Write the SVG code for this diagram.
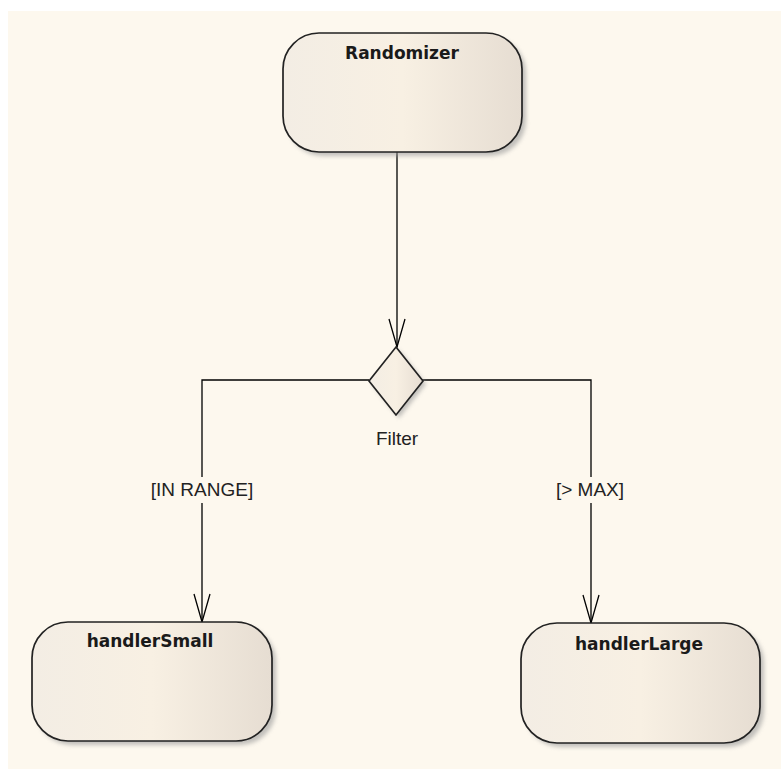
<svg xmlns="http://www.w3.org/2000/svg" width="781" height="769" viewBox="0 0 781 769">
<defs>
<linearGradient id="g" x1="0" y1="0" x2="1" y2="0">
<stop offset="0" stop-color="#F3EDE4"/>
<stop offset="0.5" stop-color="#F8F0E3"/>
<stop offset="1" stop-color="#E6DDD2"/>
</linearGradient>
<filter id="sh" x="-10%" y="-10%" width="130%" height="130%">
<feGaussianBlur stdDeviation="2"/>
</filter>
<marker id="arr" viewBox="0 0 30 20" refX="29" refY="10" markerWidth="30" markerHeight="20" markerUnits="userSpaceOnUse" orient="auto">
<path d="M1,2 L29,10 L1,18" fill="none" stroke="#000" stroke-width="1.3"/>
</marker>
<style>
.node{fill:url(#g);stroke:#222;stroke-width:1.7}
.shadow{fill:#999;opacity:0.6;filter:url(#sh)}
.title{font-family:"DejaVu Sans","Liberation Sans",sans-serif;font-weight:bold;font-size:17px;fill:#1a1a1a;text-anchor:middle}
.lbl{font-family:"Liberation Sans",Arial,sans-serif;font-size:19px;fill:#222;text-anchor:middle}
.conn{fill:none;stroke:#000;stroke-width:1.3}
.lblbg{fill:#FDF8EE}
</style>
</defs>
<rect x="0" y="0" width="781" height="769" fill="#fff"/>
<rect x="8" y="11" width="773" height="758" fill="#FDF8EE"/>
<g id="connectors">
<path class="conn" d="M397,152 L397,347" marker-end="url(#arr)"/>
<path class="conn" d="M369,380 L202,380 L202,622" marker-end="url(#arr)"/>
<path class="conn" d="M422,380 L591,380 L591,623" marker-end="url(#arr)"/>
<rect class="lblbg" x="145" y="477" width="114" height="26"/>
<text class="lbl" x="202" y="496">[IN RANGE]</text>
<rect class="lblbg" x="553" y="477" width="75" height="26"/>
<text class="lbl" x="590" y="496">[&gt; MAX]</text>
</g>
<g id="Randomizer">
<rect class="shadow" x="287" y="37" width="239" height="119" rx="36"/>
<rect class="node" x="283" y="33" width="239" height="119" rx="36"/>
<text class="title" x="402" y="59">Randomizer</text>
</g>
<g id="Filter">
<polygon class="shadow" points="399,350 426,384 399,418 372,384"/>
<polygon class="node" points="396,347 423,381 396,415 369,381"/>
<text class="lbl" x="397" y="445">Filter</text>
</g>
<g id="handlerSmall">
<rect class="shadow" x="36" y="626" width="240" height="119" rx="36"/>
<rect class="node" x="32" y="622" width="240" height="119" rx="36"/>
<text class="title" x="150" y="647">handlerSmall</text>
</g>
<g id="handlerLarge">
<rect class="shadow" x="525" y="627" width="239" height="120" rx="36"/>
<rect class="node" x="521" y="623" width="239" height="120" rx="36"/>
<text class="title" x="639" y="650">handlerLarge</text>
</g>
</svg>
